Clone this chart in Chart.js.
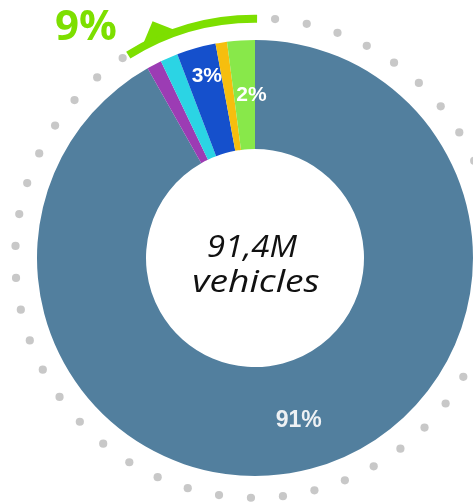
<!DOCTYPE html>
<html>
<head>
<meta charset="utf-8">
<script src="https://cdn.jsdelivr.net/npm/chart.js@4/dist/chart.umd.min.js"></script>
<style>
  html, body { margin: 0; padding: 0; background: #ffffff; }
  #wrap { width: 473px; height: 503px; }
</style>
</head>
<body>
<div id="wrap"><canvas id="c" width="473" height="503"></canvas></div>
<script>
// ---- data ----
const categories = ['Main', 'Purple', 'Cyan', 'Blue', 'Yellow', 'Green'];
const shares = [91.8, 1.1, 1.3, 2.9, 0.85, 2.05];
const sliceLabels = ['91%', '', '', '3%', '', '2%'];
const sliceColors = ['#527F9E', '#9C3CB4', '#2BD4E4', '#1550CC', '#F6BE0E', '#88E84A'];
const totalLabelLines = ['91,4M', 'vehicles'];
const highlightLabel = '9%';

const deg = Math.PI / 180;

const decoPlugin = {
  id: 'deco',
  afterDraw(chart, args, o) {
    const meta = chart.getDatasetMeta(0);
    const first = meta.data[0];
    const cx = first.x, cy = first.y, R = first.outerRadius;
    const ctx = chart.ctx;
    const pt = (r, a) => [cx + r * Math.sin(a * deg), cy - r * Math.cos(a * deg)];
    ctx.save();

    // dotted ring
    ctx.fillStyle = o.dotColor;
    for (let i = 0; i < o.dotCount; i++) {
      const a = o.dotStart + i * 360 / o.dotCount;
      const an = ((a + 180) % 360 + 360) % 360 - 180;
      if (an > o.arrowTo - 1 && an < o.arrowFrom + 1) continue;
      const [x, y] = pt(R * o.ringFactor, a);
      ctx.beginPath();
      ctx.arc(x, y, o.dotRadius, 0, Math.PI * 2);
      ctx.fill();
    }

    // arrow arc
    ctx.strokeStyle = o.arrowColor;
    ctx.lineWidth = o.arrowWidth;
    ctx.lineCap = 'butt';
    ctx.beginPath();
    ctx.arc(cx, cy, R * o.arrowFactor, (o.arrowFrom - 90) * deg, (o.arrowTo - 90) * deg, true);
    ctx.stroke();
    // arrow head
    ctx.fillStyle = o.arrowColor;
    ctx.beginPath();
    o.head.forEach(([rf, a], i) => {
      const [x, y] = pt(R * rf, a);
      if (i === 0) ctx.moveTo(x, y); else ctx.lineTo(x, y);
    });
    ctx.closePath();
    ctx.fill();

    // highlight text
    ctx.font = o.highlightFont;
    ctx.textAlign = 'center';
    ctx.textBaseline = 'alphabetic';
    ctx.fillText(highlightLabel, o.highlightX, o.highlightY);

    // slice labels
    ctx.textBaseline = 'middle';
    meta.data.forEach((el, i) => {
      const txt = sliceLabels[i];
      if (!txt) return;
      const mid = (el.startAngle + el.endAngle) / 2;
      const rr = (el.innerRadius + el.outerRadius) / 2;
      const nudge = o.labelNudge[i] || [0, 0];
      const x = el.x + rr * Math.cos(mid) + nudge[0];
      const y = el.y + rr * Math.sin(mid) + nudge[1];
      ctx.fillStyle = i === 0 ? o.mainLabelColor : o.labelColor;
      ctx.font = i === 0 ? o.mainLabelFont : o.labelFont;
      ctx.fillText(txt, x, y);
    });

    // centre text
    ctx.fillStyle = o.centerColor;
    ctx.font = o.centerFont;
    ctx.textBaseline = 'alphabetic';
    totalLabelLines.forEach((line, i) => {
      ctx.save();
      ctx.translate(cx + o.centerDx[i], cy + o.centerBaselines[i]);
      ctx.scale(o.centerScaleX[i], 1);
      ctx.fillText(line, 0, 0);
      ctx.restore();
    });
    ctx.restore();
  }
};

new Chart(document.getElementById('c'), {
  type: 'doughnut',
  data: {
    labels: categories,
    datasets: [{
      data: shares,
      backgroundColor: sliceColors,
      borderWidth: 0,
      hoverOffset: 0
    }]
  },
  options: {
    responsive: false,
    animation: false,
    cutout: '50%',
    layout: { padding: { left: 37, right: 0, top: 40, bottom: 27 } },
    plugins: {
      legend: { display: false },
      tooltip: { enabled: false },
      deco: {
        dotColor: '#C8C8C8',
        dotCount: 47,
        dotStart: 4.8,
        dotRadius: 4.1,
        ringFactor: 1.1,
        arrowColor: '#7DDF00',
        arrowWidth: 8,
        arrowFactor: 1.097,
        arrowFrom: 0.5,
        arrowTo: -32,
        head: [[1.113, -27.3], [1.183, -23.4], [1.113, -19.6]],
        highlightFont: 'bold 42px "Open Sans", "Liberation Sans", sans-serif',
        highlightX: 86,
        highlightY: 40,
        labelColor: '#FFFFFF',
        mainLabelColor: '#EEF1F4',
        labelFont: 'bold 21px "Liberation Sans", Arial, sans-serif',
        mainLabelFont: 'bold 23px "Liberation Sans", Arial, sans-serif',
        labelNudge: { 0: [2, 5], 3: [-4, -24], 5: [7, 0] },
        centerColor: '#111111',
        centerFont: 'italic 400 31px "Open Sans", sans-serif',
        centerDx: [-3, 1],
        centerScaleX: [1.06, 1.2],
        centerBaselines: [-1, 34]
      }
    }
  },
  plugins: [decoPlugin]
});
</script>
</body>
</html>
